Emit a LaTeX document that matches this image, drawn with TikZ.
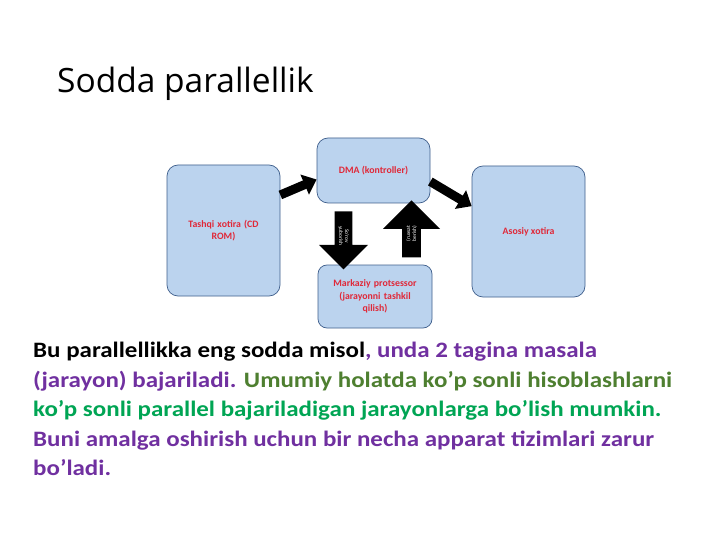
\documentclass[tikz,border=0pt]{standalone}
\usepackage{fontspec}
\setmainfont{Carlito}
\newfontfamily\titlefont{Open Sans}
\usetikzlibrary{shapes.arrows,arrows.meta}
\definecolor{boxfill}{HTML}{BBD3EE}
\definecolor{boxline}{HTML}{3F5F8C}
\definecolor{labred}{HTML}{E02838}
\definecolor{purp}{HTML}{7030A0}
\definecolor{olive}{HTML}{4E7F30}
\definecolor{grn}{HTML}{00A554}
\tikzset{
  roundbox/.style={draw=boxline, line width=0.7pt, fill=boxfill, rounded corners=11pt,
    align=center, text=labred, font=\bfseries\fontsize{9.8}{12.5}\selectfont, inner sep=2pt},
  blockarrow/.style={line width=9pt, draw=black, -{Triangle[width=21pt,length=13pt]}},
  vertarrow/.style={single arrow, fill=black, draw=none, single arrow head indent=0pt,
    inner sep=1pt, text=white, align=center, font=\fontsize{5.5}{6}\selectfont},
}
\begin{document}
\begin{tikzpicture}[x=1pt,y=-1pt]
\useasboundingbox (0,0) rectangle (720,540);
\fill[white] (0,0) rectangle (720,540);
% title
\node[anchor=base west, inner sep=0pt, font=\titlefont\fontsize{33.5}{38}\selectfont] (title) at (57,93) {Sodda parallellik};
% boxes
\node[roundbox, minimum width=113pt, minimum height=65pt] (dma) at (373.5,170.5) {DMA (kontroller)};
\node[roundbox, minimum width=113pt, minimum height=131pt, text width=104pt] (tashqi) at (223.5,230.5) {Tashqi xotira (CD\\ROM)};
\node[roundbox, minimum width=113pt, minimum height=131pt] (asosiy) at (528.5,231.5) {Asosiy xotira};
\node[roundbox, minimum width=114pt, minimum height=63pt, rounded corners=9pt, text width=100pt] (cpu) at (375,296.5) {Markaziy protsessor\\(jarayonni tashkil\\qilish)};
% diagonal arrows
\draw[blockarrow] (tashqi.32.6) -- (dma.189.5);
\draw[blockarrow] (dma.-11.5) -- (asosiy.156.6);
% vertical block arrows
\node[vertarrow, rotate=-90, minimum height=58pt, minimum width=49pt, single arrow head extend=11.5pt] (down) at (343.5,236) {So’rov\\yuborish};
\node[vertarrow, rotate=90, minimum height=57pt, minimum width=57pt, single arrow head extend=13.5pt] (up) at (411.5,233.5) {(ruxsat\\berish)};
% body text
\node[anchor=north west, inner sep=0pt, align=left, xscale=1.135, transform shape,
  font=\bfseries\fontsize{22}{29.5}\selectfont] (body) at (33,342)
{Bu parallellikka eng sodda misol\textcolor{purp}{, unda 2 tagina masala}\\
\textcolor{purp}{(jarayon) bajariladi.} \textcolor{olive}{Umumiy holatda ko’p sonli hisoblashlarni}\\
\textcolor{grn}{ko’p sonli parallel bajariladigan jarayonlarga bo’lish mumkin.}\\
\textcolor{purp}{Buni amalga oshirish uchun bir necha apparat tizimlari zarur}\\
\textcolor{purp}{bo’ladi.}};
\end{tikzpicture}
\end{document}
